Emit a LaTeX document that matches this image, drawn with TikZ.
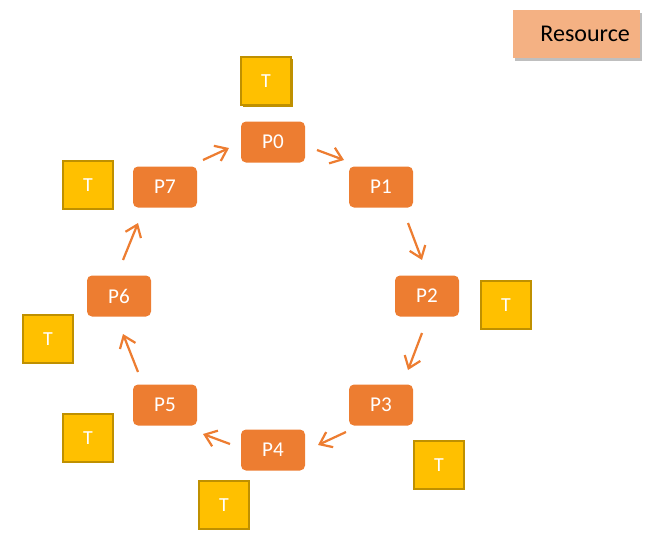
\documentclass[tikz,border=0pt]{standalone}
\usepackage{fontspec}
\setmainfont{Carlito}
\usetikzlibrary{calc, arrows.meta, shadows}
\definecolor{procorange}{HTML}{ED7D31}
\definecolor{tokgold}{HTML}{FFC000}
\definecolor{tokedge}{HTML}{BF9000}
\definecolor{ressalmon}{HTML}{F4B183}

\begin{document}
\begin{tikzpicture}[x=0.03cm, y=-0.03cm,
        proc/.style={fill=procorange, rounded corners=0.15cm, minimum width=1.92cm, minimum height=1.23cm, inner sep=0pt, text=white, font=\fontsize{18}{20}\selectfont},
        token/.style={fill=tokgold, draw=tokedge, line width=1.5pt, minimum width=1.5cm, minimum height=1.45cm, inner sep=0pt, text=white, font=\fontsize{17}{19}\selectfont},
        pass/.style={draw=procorange, line width=1.9pt, -{Straight Barb[length=0.33cm, width=0.5cm]}}]
        \useasboundingbox (0,0) rectangle (657,533);
        % resource box, top right
        \node[fill=ressalmon, minimum width=3.81cm, minimum height=1.44cm, inner sep=0pt, font=\fontsize{20.5}{23}\selectfont,
            drop shadow={shadow xshift=0.07cm, shadow yshift=-0.1cm, opacity=0.5}] (res) at (576,34) {\hspace*{0.55cm}Resource};
        % processes on the ring
        \node[proc] (P0) at (273,142) {P0};
        \node[proc] (P1) at (381,187) {P1};
        \node[proc] (P2) at (427,296) {P2};
        \node[proc] (P3) at (381,405) {P3};
        \node[proc] (P4) at (273,450) {P4};
        \node[proc] (P5) at (165,405) {P5};
        \node[proc] (P6) at (119,296) {P6};
        \node[proc] (P7) at (165,187) {P7};
        % tokens
        \node[token, general shadow={fill=tokedge, shadow xshift=0.06cm, shadow yshift=-0.06cm}] (T0) at (266,81) {T};
        \node[token] (T2) at (506,305) {T};
        \node[token] (T3) at (439,465) {T};
        \node[token] (T4) at (224,505) {T};
        \node[token] (T5) at (88,438) {T};
        \node[token] (T6) at (48,339) {T};
        \node[token] (T7) at (88,185) {T};
        % passing arrows
        \draw[pass] ($(P0)+(44,8)$) -- ($(P1)+(-37,-27)$);
        \draw[pass] ($(P1)+(27,36)$) -- ($(P2)+(-5,-36)$);
        \draw[pass] ($(P2)+(-5,37)$) -- ($(P3)+(27,-35)$);
        \draw[pass] ($(P3)+(-35,27)$) -- ($(P4)+(45,-5)$);
        \draw[pass] ($(P4)+(-43,-6)$) -- ($(P5)+(38,29)$);
        \draw[pass] ($(P5)+(-27,-33)$) -- ($(P6)+(4,38)$);
        \draw[pass] ($(P6)+(4,-36)$) -- ($(P7)+(-27,36)$);
        \draw[pass] ($(P7)+(38,-27)$) -- ($(P0)+(-44,6)$);
\end{tikzpicture}
\end{document}
